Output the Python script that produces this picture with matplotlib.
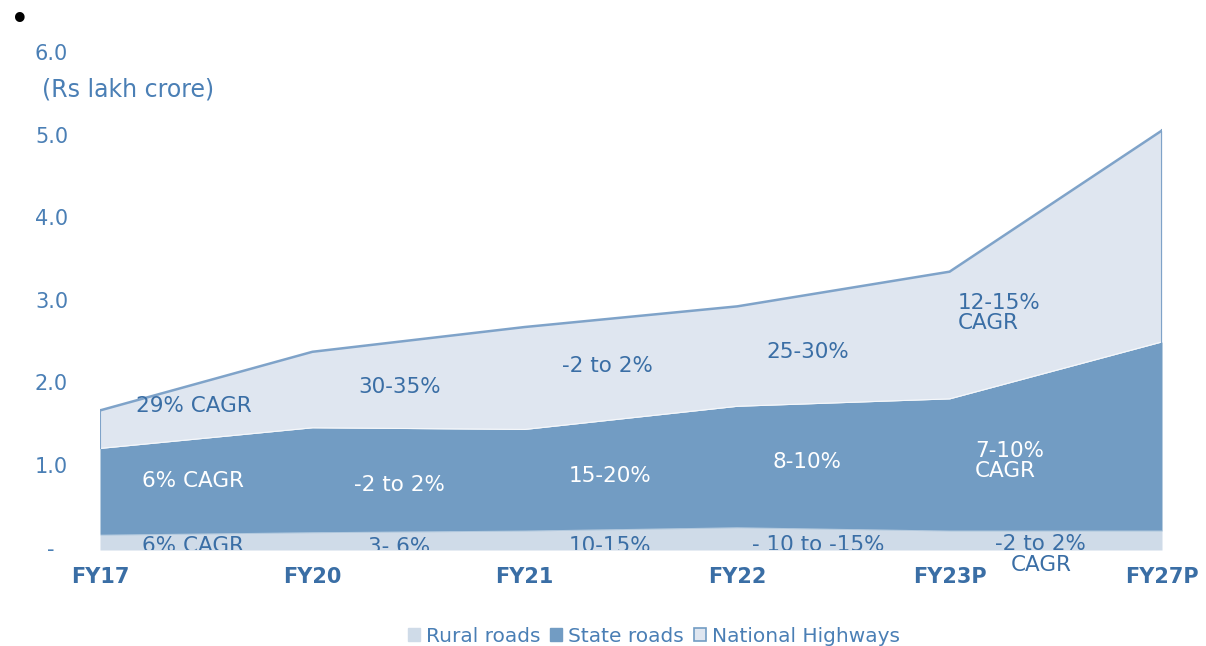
import matplotlib
matplotlib.use("Agg")
import matplotlib.pyplot as plt
from matplotlib.patches import Patch

years = ["FY17", "FY20", "FY21", "FY22", "FY23P", "FY27P"]
bottom_layer = [0.15, 0.18, 0.20, 0.24, 0.20, 0.20]
middle_layer = [1.05, 1.27, 1.23, 1.47, 1.60, 2.29]
top_layer = [0.46, 0.92, 1.24, 1.21, 1.54, 2.56]
y_ticks = [0, 1, 2, 3, 4, 5, 6]
y_tick_labels = ["-  ", "1.0", "2.0", "3.0", "4.0", "5.0", "6.0"]
legend_labels = ["Rural roads", "State roads", "National Highways"]

top_labels = ["29% CAGR", "30-35%", "-2 to 2%", "25-30%", "12-15%\nCAGR"]
mid_labels = ["6% CAGR", "-2 to 2%", "15-20%", "8-10%", "7-10%\nCAGR"]
bot_labels = ["6% CAGR", "3- 6%", "10-15%", "- 10 to -15%", "-2 to 2%\nCAGR"]

c_bot = "#cfdbe8"
c_mid = "#729cc3"
c_top = "#dfe6f0"
c_line = "#7fa3c9"
c_text = "#4a7fb5"
c_dark = "#3a6ea5"

fig = plt.figure(figsize=(12.06, 6.46), dpi=100)
W, H = 1206, 646
ax = fig.add_axes([100 / W, (H - 550) / H, (1162 - 100) / W, (550 - 52) / H])

x = list(range(len(years)))
b = bottom_layer
m = [bi + mi for bi, mi in zip(b, middle_layer)]
t = [mi + ti for mi, ti in zip(m, top_layer)]

ax.fill_between(x, -0.03, b, color=c_bot, lw=0)
ax.fill_between(x, b, m, color=c_mid, lw=0)
ax.fill_between(x, m, t, color=c_top, lw=0)
ax.plot(x, m, color="white", lw=0.8, alpha=0.7)
ax.plot(x, b, color="white", lw=0.6, alpha=0.5)
ax.plot(x, t, color=c_line, lw=1.8, solid_joinstyle="miter")
ax.plot([x[0], x[0]], [m[0], t[0]], color=c_line, lw=1.5)
ax.plot([x[-1], x[-1]], [m[-1], t[-1]], color=c_line, lw=1.5)

ax.set_xlim(0, len(years) - 1)
ax.set_ylim(-0.03, 6)
for s in ax.spines.values():
    s.set_visible(False)
ax.set_yticks(y_ticks)
ax.set_yticklabels(y_tick_labels)
ax.tick_params(axis="y", length=0, pad=23, labelsize=15, labelcolor=c_text)
ax.set_xticks(x)
ax.set_xticklabels(years)
ax.tick_params(axis="x", length=0, pad=12, labelsize=15, labelcolor=c_dark)
for lab in ax.get_xticklabels():
    lab.set_fontweight("bold")

fig.text(42 / W, 1 - 90 / H, "(Rs lakh crore)", fontsize=17, color=c_text,
         ha="left", va="center")
fig.text(10 / W, 1 - 21 / H, "\u2022", fontsize=24, color="black",
         ha="left", va="center")

fs = 15.5
top_pos = [(0.44, 1.71), (1.41, 1.94), (2.39, 2.20), (3.33, 2.37)]
for (px, py), lab in zip(top_pos, top_labels[:4]):
    ax.text(px, py, lab, ha="center", va="center", fontsize=fs, color=c_dark)
ax.text(4.04, 2.84, top_labels[4], ha="left", va="center", fontsize=fs,
        color=c_dark, linespacing=1.0)

mid_pos = [(0.44, 0.81), (1.41, 0.76), (2.4, 0.86), (3.33, 1.04)]
for (px, py), lab in zip(mid_pos, mid_labels[:4]):
    ax.text(px, py, lab, ha="center", va="center", fontsize=fs, color="white")
ax.text(4.12, 1.05, mid_labels[4], ha="left", va="center", fontsize=fs,
        color="white", linespacing=1.0)

bot_pos = [(0.44, 0.02), (1.41, 0.01), (2.4, 0.02), (3.38, 0.03)]
for (px, py), lab in zip(bot_pos, bot_labels[:4]):
    ax.text(px, py, lab, ha="center", va="center", fontsize=fs, color=c_dark,
            clip_on=True)
ax.text(4.43, -0.08, bot_labels[4], ha="center", va="center", fontsize=fs,
        color=c_dark, linespacing=1.05, clip_on=False)

handles = [Patch(facecolor=c_bot, edgecolor=c_bot),
           Patch(facecolor=c_mid, edgecolor=c_mid),
           Patch(facecolor=c_top, edgecolor=c_mid, linewidth=1.2)]
leg = fig.legend(handles, legend_labels, loc="center", bbox_to_anchor=(654 / W, 1 - 636 / H),
                 ncol=3, frameon=False, fontsize=14.5, handlelength=0.6, handleheight=0.6,
                 handletextpad=0.3, columnspacing=0.5, labelcolor=c_text)

fig.savefig("out.png", dpi=100)
